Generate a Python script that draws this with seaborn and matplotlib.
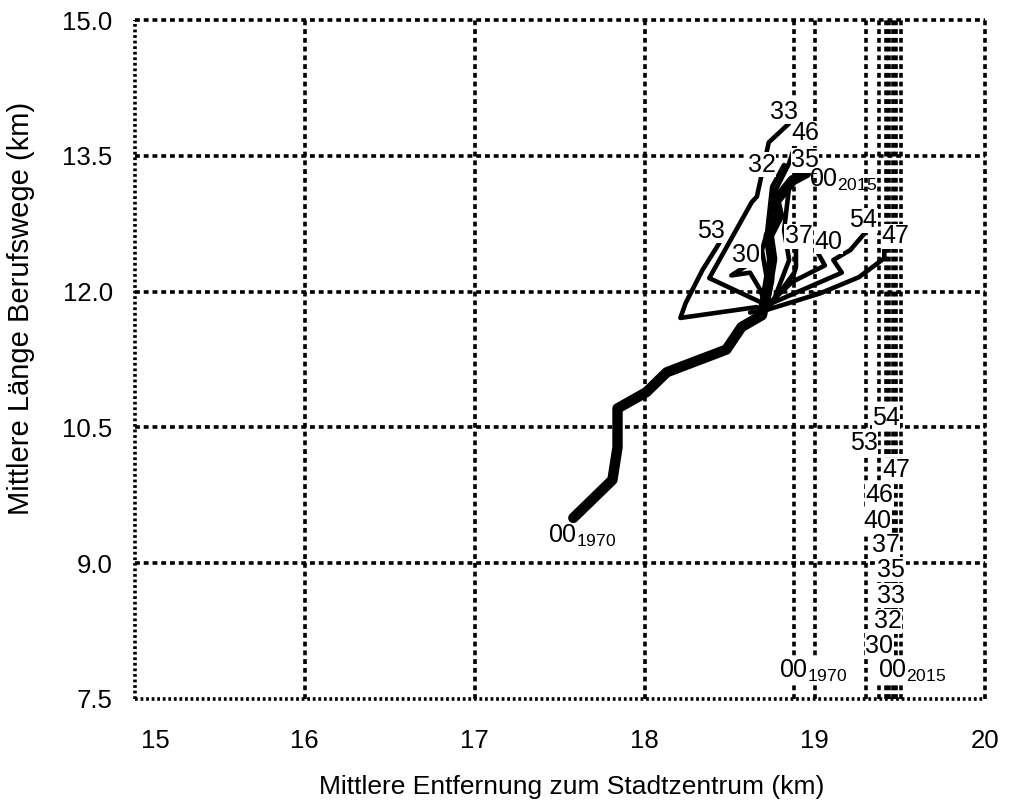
import matplotlib
matplotlib.use("Agg")
import matplotlib.pyplot as plt
import matplotlib.transforms as mtransforms
import seaborn as sns

# axis ticks
x_ticks = [15, 16, 17, 18, 19, 20]
x_labels = ["15", "16", "17", "18", "19", "20"]
y_ticks = [7.5, 9.0, 10.5, 12.0, 13.5, 15.0]
y_labels = ["7.5", "9.0", "10.5", "12.0", "13.5", "15.0"]

# whole city (00), path 1970 -> 2015
x_00 = [17.58, 17.81, 17.84, 17.84, 18.01, 18.13, 18.48, 18.57, 18.69, 18.72, 18.75, 18.73, 18.79, 18.77, 18.87, 18.95]
y_00 = [9.50, 9.92, 10.28, 10.71, 10.89, 11.11, 11.36, 11.61, 11.74, 12.02, 12.36, 12.62, 12.84, 13.00, 13.23, 13.31]

# districts, path 1970 -> 2015
x_30 = [18.72, 18.68, 18.62, 18.51, 18.61]
y_30 = [11.80, 12.02, 12.21, 12.18, 12.30]
x_32 = [18.71, 18.72, 18.69, 18.72, 18.75, 18.82]
y_32 = [11.85, 12.13, 12.46, 12.65, 13.16, 13.40]
x_33 = [18.72, 18.38, 18.63, 18.66, 18.73, 18.85]
y_33 = [11.85, 12.15, 12.99, 13.05, 13.65, 13.86]
x_35 = [18.76, 18.85, 18.82, 18.85, 18.89]
y_35 = [11.91, 12.35, 12.68, 13.16, 13.32]
x_37 = [18.74, 18.88, 18.89, 18.89]
y_37 = [11.85, 12.21, 12.27, 12.48]
x_40 = [18.72, 18.87, 19.06, 19.01]
y_40 = [11.85, 12.11, 12.29, 12.46]
x_46 = [18.72, 18.75, 18.74, 18.75, 18.78, 18.85, 18.89]
y_46 = [11.85, 12.13, 12.57, 13.05, 13.16, 13.42, 13.65]
x_47 = [18.62, 18.72, 19.03, 19.26, 19.41, 19.41]
y_47 = [11.77, 11.80, 11.98, 12.16, 12.37, 12.49]
x_53 = [18.66, 18.21, 18.24, 18.34, 18.44]
y_53 = [11.83, 11.71, 11.87, 12.24, 12.54]
x_54 = [18.72, 19.16, 19.11, 19.21, 19.31]
y_54 = [11.85, 12.21, 12.35, 12.46, 12.68]

regions = {
    "30": (x_30, y_30), "32": (x_32, y_32), "33": (x_33, y_33),
    "35": (x_35, y_35), "37": (x_37, y_37), "40": (x_40, y_40),
    "46": (x_46, y_46), "47": (x_47, y_47), "53": (x_53, y_53),
    "54": (x_54, y_54),
}

# end label offsets in points
label_off = {
    "30": (-1.5, 1.5), "32": (-16, -5), "33": (-3.5, 3.5), "35": (6.5, 3.5),
    "37": (2, 3.5), "40": (9, 1), "46": (6.5, 1.5), "47": (8, 3),
    "53": (-6, 3.5), "54": (-3, 2),
}

# label column at the lower right
col_names = ["54", "53", "47", "46", "40", "37", "35", "33", "32", "30"]
col_x = [19.42, 19.29, 19.48, 19.38, 19.37, 19.42, 19.45, 19.45, 19.43, 19.38]
col_y = [10.53, 10.25, 9.95, 9.68, 9.39, 9.12, 8.85, 8.56, 8.28, 8.01]
col_00_x = [18.79, 19.37]
col_00_y = [7.73, 7.73]
col_00_names = [r"00$_{1970}$", r"00$_{2015}$"]

# dashed vertical guides near the label column
guide_x = [18.88, 19.30, 19.38, 19.42, 19.44, 19.46, 19.48, 19.51]

sns.set_style("white")
plt.rcParams["font.family"] = ["Liberation Sans", "DejaVu Sans"]
plt.rcParams["mathtext.default"] = "regular"
plt.rcParams["lines.scale_dashes"] = False
for key in ["text.color", "axes.labelcolor", "xtick.color", "ytick.color"]:
    plt.rcParams[key] = "black"

dash = (0, (3.5, 2.8))
dots = (0, (2.0, 2.0))
glw = 2.6

fig, ax = plt.subplots(figsize=(10.14, 8.08), dpi=100)
fig.subplots_adjust(left=0.133, right=0.971, top=0.975, bottom=0.135)

# grid lines (inner ticks only)
for xv in x_ticks[1:-1]:
    ax.axvline(xv, color="black", lw=glw, linestyle=dash, zorder=0.5)
for yv in y_ticks[1:-1]:
    ax.axhline(yv, color="black", lw=glw, linestyle=dash, zorder=0.5)
for gx in guide_x:
    ax.axvline(gx, color="black", lw=glw, linestyle=dash, zorder=0.5)

# frame: dotted left/bottom, dashed top/right
ax.axvline(x_ticks[0], color="black", lw=glw, linestyle=dots, clip_on=False)
ax.axhline(y_ticks[0], color="black", lw=glw, linestyle=dots, clip_on=False)
ax.axvline(x_ticks[-1], color="black", lw=glw, linestyle=dash, clip_on=False)
ax.axhline(y_ticks[-1], color="black", lw=glw, linestyle=dash, clip_on=False)
for side in ax.spines:
    ax.spines[side].set_visible(False)

# trajectories
for name, (xs, ys) in regions.items():
    sns.lineplot(x=xs, y=ys, sort=False, estimator=None, color="black", lw=3.3, ax=ax)
sns.lineplot(x=x_00, y=y_00, sort=False, estimator=None, color="black", lw=7.5, ax=ax)

# end labels
for name, (xs, ys) in regions.items():
    dx, dy = label_off[name]
    ax.annotate(name, (xs[-1], ys[-1]), xytext=(dx, dy), textcoords="offset points",
                ha="center", va="baseline", fontsize=18,
                bbox=dict(facecolor="white", edgecolor="none", pad=0.3))
ax.annotate(r"00$_{1970}$", (x_00[0], y_00[0]), xytext=(-18, -18), textcoords="offset points",
            ha="left", va="baseline", fontsize=18)
ax.annotate(r"00$_{2015}$", (x_00[-1], y_00[-1]), xytext=(2, -10), textcoords="offset points",
            ha="left", va="baseline", fontsize=18)

# label column
for name, cx, cy in zip(col_names, col_x, col_y):
    ax.text(cx, cy, name, ha="center", va="baseline", fontsize=18,
            bbox=dict(facecolor="white", edgecolor="none", pad=0.3))
for name, cx, cy in zip(col_00_names, col_00_x, col_00_y):
    ax.text(cx, cy, name, ha="left", va="baseline", fontsize=18,
            bbox=dict(facecolor="white", edgecolor="none", pad=0.3))

ax.set_xlim(15, 20)
ax.set_ylim(7.5, 15)
ax.set_xticks(x_ticks)
ax.set_xticklabels(x_labels)
ax.set_yticks(y_ticks)
ax.set_yticklabels(y_labels)
ax.tick_params(axis="both", length=0, labelsize=18.5)
ax.tick_params(axis="x", pad=22)
ax.tick_params(axis="y", pad=16)

# first x label sits a bit to the right in the original
shift = mtransforms.ScaledTranslation(15 / 72, 0, fig.dpi_scale_trans)
first = ax.get_xticklabels()[0]
first.set_transform(first.get_transform() + shift)

ax.set_xlabel("Mittlere Entfernung zum Stadtzentrum (km)", fontsize=19)
ax.set_ylabel("Mittlere Länge Berufswege (km)", fontsize=21)
ax.xaxis.set_label_coords(0.514, -0.112)
ax.yaxis.set_label_coords(-0.117, 0.576)

plt.savefig("out.png", dpi=100)
